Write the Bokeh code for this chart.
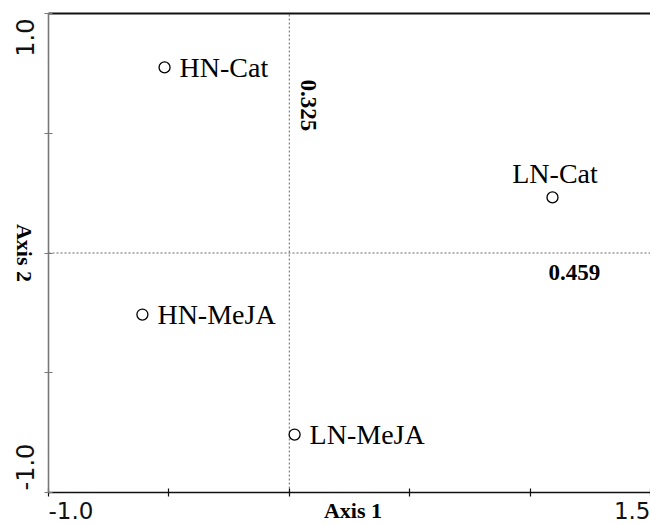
import math
from bokeh.plotting import figure
from bokeh.models import Label, Range1d, FixedTicker, LinearAxis
from bokeh.core.properties import value
from bokeh.embed import file_html
from bokeh.resources import INLINE

# ---- data ----
samples = ["HN-Cat", "LN-Cat", "HN-MeJA", "LN-MeJA"]
axis1 = [-0.518, 1.093, -0.610, 0.022]
axis2 = [0.775, 0.232, -0.257, -0.758]
x_ticks = [-1.0, -0.5, 0.0, 0.5, 1.0, 1.5]
y_ticks = [-1.0, -0.5, 0.0, 0.5, 1.0]
x_tick_labels = {-1.0: "-1.0", 1.5: "1.5"}
y_tick_labels = {-1.0: "-1.0", 1.0: "1.0"}
axis1_title = "Axis 1"
axis2_title = "Axis 2"
axis1_value = "0.459"
axis2_value = "0.325"

# ---- layout ----
W, H = 650, 525
XMIN, XMAX, YMIN, YMAX = -1.0, 1.5, -1.0, 1.0
PAD_L, PAD_T, PAD_B = 48, 13, 33
ux = (W - PAD_L) / (XMAX - XMIN)
uy = (H - PAD_T - PAD_B) / (YMAX - YMIN)

p = figure(width=W, height=H,
           x_range=Range1d(XMIN - PAD_L / ux, XMAX),
           y_range=Range1d(YMIN - PAD_B / uy, YMAX + PAD_T / uy),
           output_backend="svg", toolbar_location=None,
           min_border_left=0, min_border_right=0, min_border_top=0, min_border_bottom=0)
p.grid.visible = False
p.outline_line_color = None
p.background_fill_color = "white"
p.border_fill_color = "white"

def style_axis(ax, ticks, bounds, col):
    ax.ticker = FixedTicker(ticks=[], minor_ticks=ticks)
    ax.bounds = bounds
    ax.minor_tick_in = 4
    ax.minor_tick_out = 4
    ax.minor_tick_line_color = col
    ax.minor_tick_line_width = 1.2
    ax.major_tick_line_color = None
    ax.axis_line_color = col
    ax.axis_line_width = 1.6

xa = p.xaxis[0]
xa.fixed_location = YMIN
style_axis(xa, x_ticks, (XMIN, XMAX), "#111111")
ya = p.yaxis[0]
ya.fixed_location = XMIN
style_axis(ya, y_ticks, (YMIN, YMAX), "#777777")

top = LinearAxis(fixed_location=YMAX, bounds=(XMIN, XMAX), ticker=FixedTicker(ticks=[]),
                 axis_line_color="#111111", axis_line_width=2,
                 major_tick_line_color=None, minor_tick_line_color=None)
p.add_layout(top, "above")

# dotted reference lines at the origin
p.segment(x0=[0, XMIN], y0=[YMIN, 0], x1=[0, XMAX], y1=[YMAX, 0],
          line_color="#666666", line_width=1, line_dash="2 2")

# points
p.scatter(axis1, axis2, size=11, marker="circle", fill_color="white", line_color="black", line_width=1.3)

serif = value("Liberation Serif")
for name, xv, yv in zip(samples, axis1, axis2):
    if name == "LN-Cat":
        p.text([xv + 2.5 / ux], [yv + 24 / uy], text=[name], text_align="center",
               text_baseline="middle", text_font=serif, text_font_size="28px", text_color="black")
    else:
        p.text([xv + 15 / ux], [yv], text=[name], text_align="left",
               text_baseline="middle", text_font=serif, text_font_size="28px", text_color="black")

sans = "DejaVu Sans"
ymid = YMIN - 18 / uy
for t, s in x_tick_labels.items():
    p.add_layout(Label(x=t, y=ymid, text=s, text_align="left" if t == XMIN else "right",
                       text_baseline="middle", text_font=sans, text_font_size="23px",
                       text_color="#111111"))
xlab = XMIN - 23.5 / ux
for t, s in y_tick_labels.items():
    p.add_layout(Label(x=xlab, y=t - (5 / uy if t == YMAX else -2 / uy), text=s, angle=math.pi / 2,
                       text_align="right" if t == YMAX else "left",
                       text_baseline="middle", text_font=sans, text_font_size="24px",
                       text_color="#111111"))

p.add_layout(Label(x=0.2645, y=ymid, text=axis1_title, text_align="center",
                   text_baseline="middle", text_font="Liberation Serif", text_font_style="bold",
                   text_font_size="22px", text_color="black"))
p.add_layout(Label(x=XMIN - 24 / ux, y=0, text=axis2_title, angle=-math.pi / 2, text_align="center",
                   text_baseline="middle", text_font="Liberation Serif", text_font_style="bold",
                   text_font_size="22px", text_color="black"))

p.add_layout(Label(x=0.0714 + 2 / ux, y=0.616, text=axis2_value, angle=-math.pi / 2, text_align="center",
                   text_baseline="middle", text_font="Liberation Serif", text_font_style="bold",
                   text_font_size="23px", text_color="black"))
p.add_layout(Label(x=1.184, y=-0.0835, text=axis1_value, text_align="center",
                   text_baseline="middle", text_font="Liberation Serif", text_font_style="bold",
                   text_font_size="23px", text_color="black"))

open("out.html", "w").write(file_html(p, INLINE))
